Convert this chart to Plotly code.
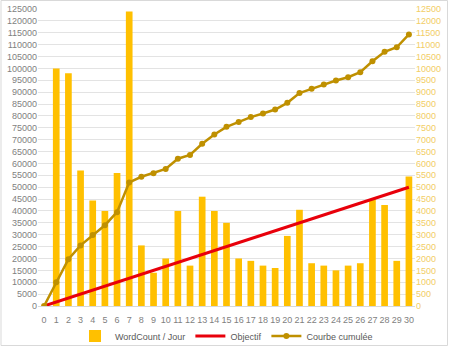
import plotly.graph_objects as go

days = list(range(0, 31))
wordcount = [0, 10000, 9800, 5700, 4440, 4000, 5600, 12400, 2550, 1400, 2000,
             4000, 1700, 4600, 4000, 3500, 2000, 1900, 1700, 1600, 2950,
             4050, 1800, 1700, 1500, 1700, 1800, 4500, 4250, 1900, 5450]
objectif = [0, 1667, 3333, 5000, 6667, 8333, 10000, 11667, 13333, 15000, 16667,
            18333, 20000, 21667, 23333, 25000, 26667, 28333, 30000, 31667, 33333,
            35000, 36667, 38333, 40000, 41667, 43333, 45000, 46667, 48333, 50000]
cumul = [0, 10000, 19700, 25500, 29900, 34000, 39500, 52000, 54400, 55900, 57700,
         62000, 63600, 68300, 72200, 75400, 77400, 79500, 81000, 82700, 85500,
         89600, 91400, 93200, 94900, 96300, 98400, 103000, 107000, 108900, 114300]

W, H = 450, 349
ml, mr, mt, mb = 38, 35, 9, 43
pw, ph = W - ml - mr, H - mt - mb

fig = go.Figure()
fig.add_trace(go.Bar(x=days, y=wordcount, name="WordCount / Jour",
                     marker=dict(color="#FFC000", line=dict(width=0)),
                     yaxis="y"))
fig.add_trace(go.Scatter(x=days, y=objectif, name="Objectif", mode="lines",
                         line=dict(color="#E8000B", width=3), yaxis="y2"))
fig.add_trace(go.Scatter(x=days, y=cumul, name="Courbe cumulée", mode="lines+markers",
                         line=dict(color="#BF9000", width=2.5),
                         marker=dict(color="#BF9000", size=6), yaxis="y2"))

tickfont = dict(family="Liberation Sans, Arial, sans-serif", size=9, color="#7F7F7F")
fig.update_layout(
    width=W, height=H,
    margin=dict(l=ml, r=mr, t=mt, b=mb, autoexpand=False),
    paper_bgcolor="white", plot_bgcolor="white",
    bargap=0.45,
    showlegend=True,
    legend=dict(orientation="h", x=0.5, xanchor="center",
                yref="container", y=1 - 336 / H, yanchor="middle",
                font=dict(family="Liberation Sans, Arial, sans-serif", size=9, color="#595959"),
                tracegroupgap=0, bgcolor="rgba(0,0,0,0)"),
    xaxis=dict(range=[-0.5, 30.5], tickmode="array", tickvals=days,
               ticktext=[str(d) for d in days], tickfont=tickfont,
               showgrid=False, zeroline=False, showline=True, linecolor="#D9D9D9",
               ticks="", ticklen=0, ticklabelstandoff=5),
    yaxis=dict(range=[0, 12500], dtick=500, side="right", tickformat="d",
               tickfont=dict(family="Liberation Sans, Arial, sans-serif", size=9,
                             color="#F2CD66"),
               showgrid=True, gridcolor="#E3E3E3", gridwidth=1, zeroline=False,
               showline=False, ticks=""),
    yaxis2=dict(range=[0, 125000], dtick=5000, side="left", overlaying="y",
                tickformat="d",
                tickfont=tickfont, showgrid=False, zeroline=False, showline=False,
                ticks=""),
    shapes=[dict(type="rect", xref="paper", yref="paper",
                 x0=(1 - ml) / pw, x1=(W - 2.5 - ml) / pw,
                 y0=(H - mb - (H - 3.5)) / ph, y1=(H - mb - 0.5) / ph,
                 line=dict(color="#D9D9D9", width=1), fillcolor="rgba(0,0,0,0)",
                 layer="below")],
)

fig.write_html("out.html")
